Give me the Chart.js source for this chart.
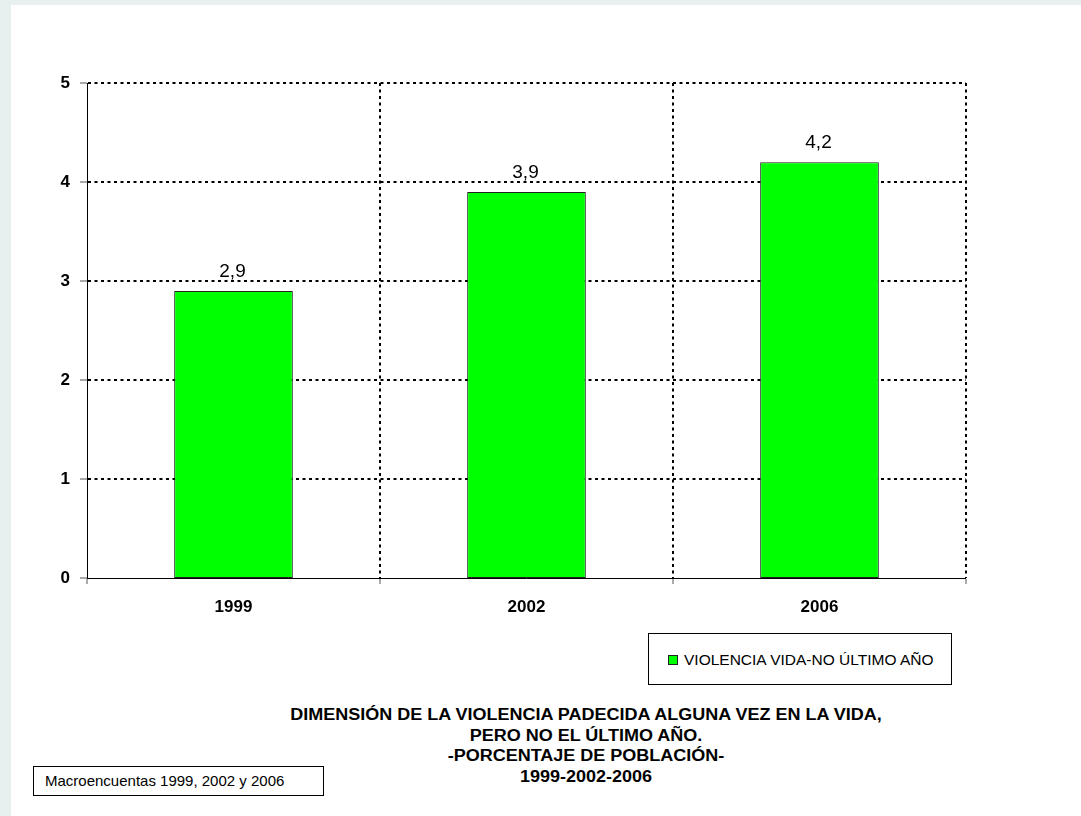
<!DOCTYPE html>
<html>
<head>
<meta charset="utf-8">
<script src="https://cdn.jsdelivr.net/npm/chart.js@4.4.0/dist/chart.umd.min.js"></script>
<style>
    body {
        margin: 0;
        width: 1081px;
        height: 816px;
        background: #e8f0ef;
        position: relative;
        overflow: hidden;
        font-family: 'Liberation Sans', Arial, sans-serif;
    }
    .panel {
        position: absolute;
        left: 11px;
        top: 5px;
        right: 0;
        bottom: 0;
        background: #fff;
    }
    #violenciaChart {
        position: absolute;
        left: 0;
        top: 0;
    }
    .legend-box {
        position: absolute;
        left: 648px;
        top: 633px;
        width: 302px;
        height: 50px;
        border: 1px solid #000;
        background: #fff;
    }
    .legend-box .marker {
        position: absolute;
        left: 19px;
        top: 21px;
        width: 8px;
        height: 8px;
        background: #00ff00;
        border: 1px solid #222;
    }
    .legend-box .text {
        position: absolute;
        left: 35px;
        top: 17px;
        font-size: 15.5px;
        line-height: 18px;
        white-space: nowrap;
        color: #000;
    }
    .chart-title {
        position: absolute;
        left: 186px;
        top: 705px;
        width: 800px;
        text-align: center;
        font-size: 16px;
        font-weight: bold;
        line-height: 20.7px;
        color: #000;
        transform: scaleX(1.125);
        transform-origin: 400px 0;
    }
    .source-box {
        position: absolute;
        left: 33px;
        top: 766px;
        width: 289px;
        height: 28px;
        border: 1px solid #000;
        background: #fff;
        font-size: 15px;
        line-height: 28px;
    }
    .source-box span {
        margin-left: 11px;
        white-space: nowrap;
    }
</style>
</head>
<body>
<div class="panel"></div>
<canvas id="violenciaChart" width="1081" height="620"></canvas>
<div class="legend-box"><div class="marker"></div><div class="text">VIOLENCIA VIDA-NO ÚLTIMO AÑO</div></div>
<div class="chart-title">DIMENSIÓN DE LA VIOLENCIA PADECIDA ALGUNA VEZ EN LA VIDA,<br>PERO NO EL ÚLTIMO AÑO.<br>-PORCENTAJE DE POBLACIÓN-<br>1999-2002-2006</div>
<div class="source-box"><span>Macroencuentas 1999, 2002 y 2006</span></div>

<script>
// Datos
const years = ['1999', '2002', '2006'];
const violenciaVida = [2.9, 3.9, 4.2];
const yTicks = [0, 1, 2, 3, 4, 5];

const fontFamily = "'Liberation Sans', Arial, sans-serif";

document.addEventListener('DOMContentLoaded', function() {
    initViolenciaChart();
});

// etiquetas de valor encima de cada barra, con coma decimal
const valueLabels = {
    id: 'valueLabels',
    afterDatasetsDraw(chart) {
        const ctx = chart.ctx;
        const meta = chart.getDatasetMeta(0);
        ctx.save();
        ctx.font = '19px ' + fontFamily;
        ctx.fillStyle = '#000';
        ctx.textAlign = 'center';
        ctx.textBaseline = 'alphabetic';
        meta.data.forEach(function(bar, i) {
            const label = String(violenciaVida[i]).replace('.', ',');
            ctx.fillText(label, bar.x - 1, bar.y - 14);
        });
        ctx.restore();
    }
};

function initViolenciaChart() {
    const ctx = document.getElementById('violenciaChart').getContext('2d');

    new Chart(ctx, {
        type: 'bar',
        data: {
            labels: years,
            datasets: [{
                label: 'VIOLENCIA VIDA-NO ÚLTIMO AÑO',
                data: violenciaVida,
                backgroundColor: '#00ff00',
                borderColor: '#222',
                borderWidth: 1,
                borderSkipped: false,
                barPercentage: 0.405,
                categoryPercentage: 1
            }]
        },
        options: {
            responsive: false,
            animation: false,
            devicePixelRatio: 1,
            layout: {
                padding: { top: 83, right: 115, left: 0, bottom: 0 }
            },
            plugins: {
                legend: { display: false },
                tooltip: { enabled: false }
            },
            scales: {
                x: {
                    afterFit: function(scale) { scale.height = 42; },
                    grid: {
                        offset: true,
                        color: '#000',
                        lineWidth: function(c) { return c.index === 0 ? 0 : 2; },
                        tickLength: 6,
                        tickColor: '#555',
                        tickWidth: 1
                    },
                    border: { display: true, color: '#000', width: 1, dash: [3, 3.5] },
                    ticks: {
                        color: '#000',
                        padding: 13,
                        font: { family: fontFamily, size: 17, weight: 'bold' }
                    }
                },
                y: {
                    min: 0,
                    max: 5,
                    afterFit: function(scale) { scale.width = 87; },
                    afterBuildTicks: function(scale) {
                        scale.ticks = yTicks.map(v => ({ value: v }));
                    },
                    grid: {
                        color: '#000',
                        lineWidth: function(c) { return c.index === 0 ? 0 : 2; },
                        tickLength: 7,
                        tickColor: '#555',
                        tickWidth: 1
                    },
                    border: { display: true, color: '#000', width: 1, dash: [3, 3.5] },
                    ticks: {
                        color: '#000',
                        padding: 10,
                        font: { family: fontFamily, size: 17, weight: 'bold' }
                    }
                }
            }
        },
        plugins: [valueLabels]
    });
}
</script>
</body>
</html>
